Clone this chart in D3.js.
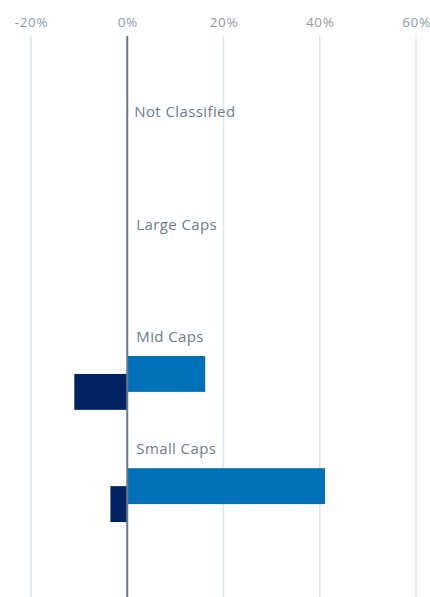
<!DOCTYPE html>
<html>
<head>
<meta charset="utf-8">
<script src="https://cdn.jsdelivr.net/npm/d3@7"></script>
<style>
  body { margin: 0; background: #fff; }
  svg text { font-family: "Open Sans", "Noto Sans", sans-serif; }
</style>
</head>
<body>
<div id="chart"></div>
<script>
// categories and the two series (light = fund, dark = relative)
var categories = ["Not Classified", "Large Caps", "Mid Caps", "Small Caps"];
var seriesNames = ["Fund", "Relative"];
var fundValues = [null, null, 16.2, 41.1];
var relativeValues = [null, null, -11.0, -3.5];
var tickValues = [-20, 0, 20, 40, 60];

var W = 430, H = 597;
var margin = {top: 36, right: 14, bottom: 0, left: 31};

var svg = d3.select('#chart').append('svg').attr('width', W).attr('height', H);

var x = d3.scaleLinear().domain([-20, 60]).range([margin.left, W - margin.right]);
var y = d3.scaleBand().domain(categories).range([margin.top, H - margin.bottom]).paddingOuter(0.5).paddingInner(0);

var step = y.step();
// inside each band: label on top, then the two bars, overlapping half
var barH = step * 0.32;
var off = d3.scaleOrdinal().domain(seriesNames).range([step * 0.352, step * 0.352 + barH / 2]);
var color = d3.scaleOrdinal().domain(seriesNames).range(['#0070b8', '#002462']);

// grid + tick labels
var axis = d3.axisTop(x).tickValues(tickValues).tickFormat(function(d){ return d + '%'; }).tickSize(0).tickPadding(0);
var ag = svg.append('g').attr('transform', 'translate(0,' + 27 + ')').call(axis);
ag.select('.domain').remove();
ag.selectAll('text').attr('fill', '#8f99a8').attr('font-size', 13.5).attr('letter-spacing', 0.6);

svg.append('g').selectAll('line').data(tickValues.filter(function(d){ return d !== 0; }))
  .enter().append('line')
  .attr('x1', function(d){ return x(d); }).attr('x2', function(d){ return x(d); })
  .attr('y1', margin.top).attr('y2', H)
  .attr('stroke', '#dde6f0').attr('stroke-width', 1.5);

// bars
var rows = [];
categories.forEach(function(c, i){
  if (fundValues[i] != null) rows.push({cat: c, s: 'Fund', v: fundValues[i]});
  if (relativeValues[i] != null) rows.push({cat: c, s: 'Relative', v: relativeValues[i]});
});

svg.append('g').selectAll('rect').data(rows).enter().append('rect')
  .attr('x', function(d){ return x(Math.min(0, d.v)); })
  .attr('width', function(d){ return Math.abs(x(d.v) - x(0)); })
  .attr('y', function(d){ return y(d.cat) + off(d.s); })
  .attr('height', barH)
  .attr('fill', function(d){ return color(d.s); });

// zero line
svg.append('line')
  .attr('x1', x(0)).attr('x2', x(0)).attr('y1', margin.top).attr('y2', H)
  .attr('stroke', '#6b7889').attr('stroke-width', 2);

// category labels
svg.append('g').selectAll('text').data(categories).enter().append('text')
  .attr('x', function(d, i){ return x(0) + (i === 0 ? 7 : 9); })
  .attr('y', function(d){ return y(d) + step * 0.225; })
  .attr('fill', '#6e7b8d').attr('font-size', 15).attr('letter-spacing', 0.4)
  .text(function(d){ return d; });
</script>
</body>
</html>
